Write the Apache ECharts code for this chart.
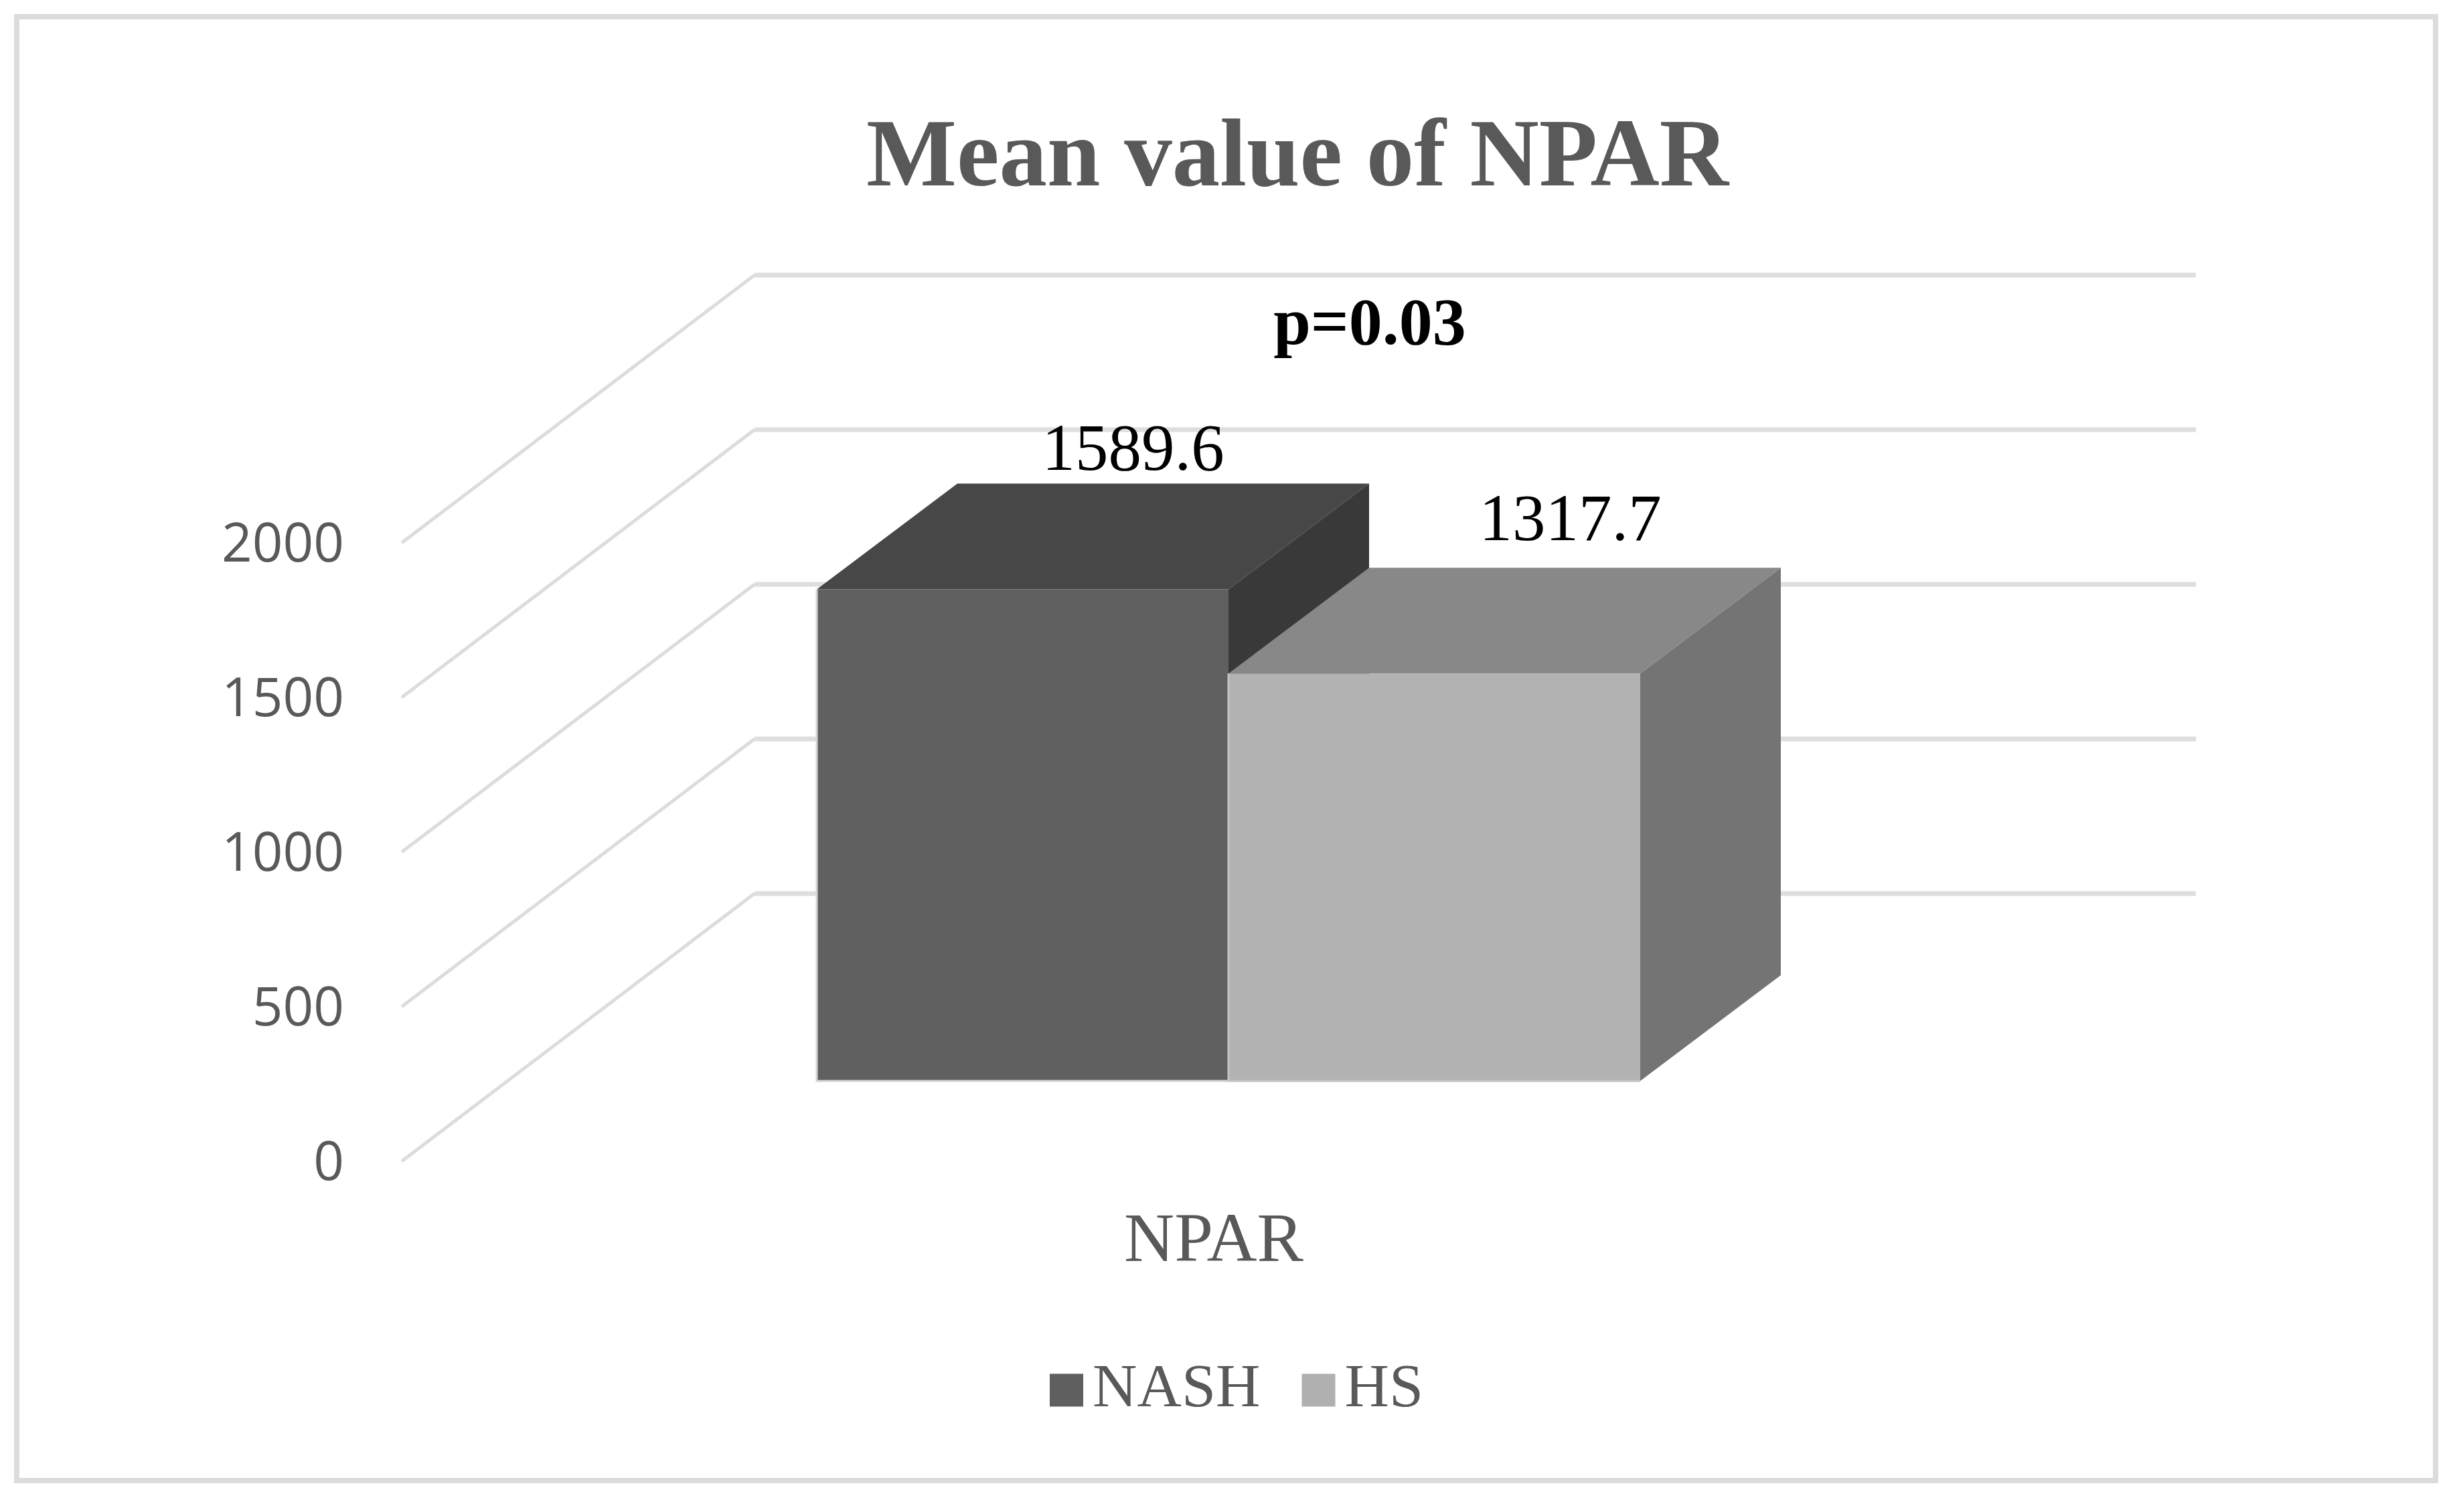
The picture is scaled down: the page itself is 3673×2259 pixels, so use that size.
<!DOCTYPE html>
<html>
<head>
<meta charset="utf-8">
<style>html,body{margin:0;padding:0;background:#fff}#c{width:3673px;height:2259px}</style>
<script src="https://cdn.jsdelivr.net/npm/echarts@6/dist/echarts.min.js"></script>
</head>
<body>
<div id="c"></div>
<script>
const titleText = 'Mean value of NPAR';
const noteText = 'p=0.03';
const categories = ['NPAR'];
const yTicks = [0, 500, 1000, 1500, 2000];
const nashValues = [1589.6];
const hsValues = [1317.7];

const SERIF = '"Liberation Serif","Times New Roman",serif';
const TEXT = '#595959';
const WALL = {dx: 527, dy: -400, right: 3280};
const BAR = {plane: {dx: 22, dy: -120}, width: 615, depthX: 210, depthY: -158};

function renderWall(params, api) {
  const v = api.value(0);
  const p = api.coord([0, v]);
  const x0 = params.coordSys.x, y0 = p[1];
  const xb = x0 + WALL.dx, yb = y0 + WALL.dy;
  return {type: 'group', children: [
    {type: 'line', shape: {x1: x0, y1: y0, x2: xb, y2: yb},
      style: {stroke: '#dcdcdc', lineWidth: 5, fill: null}},
    {type: 'line', shape: {x1: xb, y1: yb, x2: WALL.right, y2: yb},
      style: {stroke: '#dedede', lineWidth: 7, fill: null}}
  ]};
}

function makeBar(side, colors, labelShift, edge) {
  return function (params, api) {
    const val = api.value(1);
    const top = api.coord([api.value(0), val]);
    const base = api.coord([api.value(0), 0]);
    const cx = top[0] + BAR.plane.dx + side * BAR.width / 2;
    const l = cx - BAR.width / 2, r = cx + BAR.width / 2;
    const t = top[1] + BAR.plane.dy, b = base[1] + BAR.plane.dy;
    const dx = BAR.depthX, dy = BAR.depthY;
    return {type: 'group', children: [
      {type: 'polygon', shape: {points: [[r, t], [r + dx, t + dy], [r + dx, b + dy], [r, b]]},
        style: {fill: colors.side}},
      {type: 'polygon', shape: {points: [[l, t], [l + dx, t + dy], [r + dx, t + dy], [r, t]]},
        style: {fill: colors.top}},
      {type: 'rect', shape: {x: l, y: t, width: r - l, height: b - t},
        style: {fill: colors.front}},
      {type: 'polyline', shape: {points: [[l, t], [l, b], [r, b]]},
        style: {fill: null, stroke: edge, lineWidth: 3}},
      {type: 'text', style: {
        x: cx + dx + labelShift[0], y: t + dy + labelShift[1],
        text: String(val), fill: '#000', font: '99px ' + SERIF,
        align: 'center', verticalAlign: 'bottom'}}
    ]};
  };
}

const chart = echarts.init(document.getElementById('c'), null, {renderer: 'canvas'});
chart.setOption({
  animation: false,
  backgroundColor: '#ffffff',
  title: {
    text: titleText, left: 1933, top: 164, textAlign: 'center',
    textStyle: {fontFamily: SERIF, fontWeight: 'bold', fontSize: 143, color: TEXT}
  },
  legend: {
    left: 1563, top: 2026, itemWidth: 50, itemHeight: 49, itemGap: 62,
    data: [
      {name: 'NASH', icon: 'rect', itemStyle: {color: '#5f5f5f'}},
      {name: 'HS', icon: 'rect', itemStyle: {color: '#b0b0b0'}}
    ],
    textStyle: {fontFamily: SERIF, fontSize: 92, color: TEXT, padding: [0, 0, 0, 9]}
  },
  grid: {left: 600, top: 811, width: 2426, height: 924},
  xAxis: {
    type: 'category', data: categories,
    axisLine: {show: false}, axisTick: {show: false}, splitLine: {show: false},
    axisLabel: {fontFamily: SERIF, fontSize: 104, color: TEXT, margin: 70}
  },
  yAxis: {
    type: 'value', min: 0, max: 2000, interval: 500,
    axisLine: {show: false}, axisTick: {show: false}, splitLine: {show: false},
    axisLabel: {fontFamily: '"Open Sans"', fontSize: 80, color: TEXT, margin: 86,
      formatter: v => String(v), verticalAlign: 'top', lineHeight: 10}
  },
  graphic: [
    {type: 'rect', z: -1, shape: {x: 25, y: 25, width: 3613, height: 2187},
      style: {fill: '#fff', stroke: '#dcdcdc', lineWidth: 8}},
    {type: 'text', z: 50, style: {x: 2046, y: 438, text: noteText, fill: '#000',
      font: 'bold 100px ' + SERIF, align: 'center', verticalAlign: 'alphabetic'}}
  ],
  series: [
    {type: 'custom', name: 'wall', silent: true, data: yTicks.map(v => [v]),
      encode: {y: 0}, renderItem: renderWall, z: 1},
    {type: 'custom', name: 'NASH', z: 2,
      data: nashValues.map((v, i) => [i, v]), encode: {x: 0, y: 1},
      itemStyle: {color: '#5f5f5f'},
      renderItem: makeBar(-1, {front: '#606060', top: '#474747', side: '#393939'}, [-45, 3], '#d4d4d4')},
    {type: 'custom', name: 'HS', z: 3,
      data: hsValues.map((v, i) => [i, v]), encode: {x: 0, y: 1},
      itemStyle: {color: '#b0b0b0'},
      renderItem: makeBar(1, {front: '#b2b2b2', top: '#888888', side: '#747474'}, [-7, -18], '#c4c4c4')}
  ]
});
</script>
</body>
</html>
